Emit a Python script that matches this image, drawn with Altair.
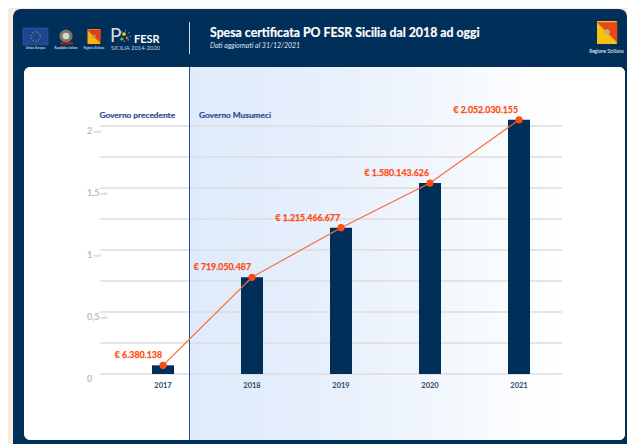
import altair as alt
import pandas as pd

years = [2017, 2018, 2019, 2020, 2021]
bar_values = [0.07, 0.78, 1.18, 1.54, 2.05]
euro_labels = ["€ 6.380.138", "€ 719.050.487", "€ 1.215.466.677", "€ 1.580.143.626", "€ 2.052.030.155"]
grid_values = [0, 0.25, 0.5, 0.75, 1, 1.25, 1.5, 1.75, 2]
tick_values = [0, 0.5, 1, 1.5, 2]
tick_labels = ["0", "0,5", "1", "1,5", "2"]
unit_short_ticks = [1, 2]
unit_long_ticks = [0.5, 1.5]

NAVY = "#002f5a"
ORANGE = "#ff4d12"
BLUE = "#2e4a94"
FONT = "Lato"
W, H = 619, 436

def px(v):  # page coordinate -> chart coordinate
    return alt.value(v - 8)

xs = alt.Scale(domain=[2017, 2021], range=[155, 511], padding=0, nice=False, zero=False)
ys = alt.Scale(domain=[0, 2], range=[366, 118], padding=0, nice=False)
X = alt.X("year:Q", scale=xs, axis=None)
Y = alt.Y("v:Q", scale=ys, axis=None)
Y0 = alt.Y(datum=0, scale=ys, axis=None)

one = pd.DataFrame({"a": [0]})

def box(x1, y1, x2, y2, **kw):
    return alt.Chart(one).mark_rect(**kw).encode(x=px(x1), x2=px(x2), y=px(y1), y2=px(y2))

def label(x, y, text, size, color="white", weight="normal", align="left", **kw):
    return alt.Chart(pd.DataFrame({"t": [text]})).mark_text(
        font=FONT, fontSize=size, color=color, fontWeight=weight, align=align, baseline="middle", **kw
    ).encode(x=px(x), y=px(y), text="t:N")

def symbol(x, y, shape, size, color):
    return alt.Chart(one).mark_point(shape=shape, size=size, filled=True, color=color, opacity=1).encode(x=px(x), y=px(y))

def ring(x, y, size, color, dash):
    return alt.Chart(one).mark_point(shape="circle", size=size, filled=False, color=color, opacity=1,
                                     strokeWidth=1, strokeDash=dash).encode(x=px(x), y=px(y))

bars_df = pd.DataFrame({"year": years, "v": bar_values, "label": euro_labels})
grid_df = pd.DataFrame({"v": grid_values})
ticks_df = pd.DataFrame({"v": tick_values, "t": tick_labels})

cream = box(0, 0, 640, 450, color="#f3ecdf")
navy = box(13, 9, 627, 470, color=NAVY, cornerRadiusTopLeft=8, cornerRadiusTopRight=8)
white = box(24, 67, 625, 440, color="white", cornerRadius=6)
grad = box(189, 67, 625, 440, cornerRadiusTopRight=6, cornerRadiusBottomRight=6,
           color=alt.Gradient(gradient="linear", x1=0, x2=1, y1=0, y2=0,
                              stops=[alt.GradientStop(color="#dfebfb", offset=0),
                                     alt.GradientStop(color="#e6effc", offset=0.3),
                                     alt.GradientStop(color="#ffffff", offset=0.85)]))
grid = alt.Chart(grid_df).mark_rule(color="#dcdcdc", strokeWidth=1.5).encode(y=Y, x=px(100), x2=px(562))
divider = alt.Chart(one).mark_rule(color=BLUE, strokeWidth=1).encode(x=px(189.5), y=px(67), y2=px(440))

bars = alt.Chart(bars_df).mark_bar(size=22, color=NAVY).encode(x=X, y=Y, y2=alt.Y2(datum=0))
line = alt.Chart(bars_df).mark_line(color="#ff6a3a", strokeWidth=1.2).encode(x=X, y=Y)
dots = alt.Chart(bars_df).mark_circle(size=52, color=ORANGE, opacity=1).encode(x=X, y=Y)
values = alt.Chart(bars_df).mark_text(font=FONT, fontSize=8.8, fontWeight="bold", color=ORANGE, align="right",
                                      baseline="middle", dx=-1, dy=-10, stroke=ORANGE, strokeWidth=0.25).encode(x=X, y=Y, text="label:N")
year_txt = alt.Chart(bars_df).mark_text(font=FONT, fontSize=7.5, fontWeight="bold", color="#2c4a6e", dy=12,
                                        baseline="middle").encode(x=X, y=Y0, text=alt.Text("year:Q", format="d"))
tick_big = alt.Chart(ticks_df).mark_text(font=FONT, fontSize=9, fontWeight="bold", color="#bdbdbd", align="left",
                                         baseline="middle", dy=5).encode(x=px(87), y=Y, text="t:N")
unit_a = alt.Chart(pd.DataFrame({"v": unit_short_ticks, "u": "mld"})).mark_text(
    font=FONT, fontSize=4.5, color="#bdbdbd", align="left", baseline="middle", dy=6).encode(x=px(93.5), y=Y, text="u:N")
unit_b = alt.Chart(pd.DataFrame({"v": unit_long_ticks, "u": "mld"})).mark_text(
    font=FONT, fontSize=4.5, color="#bdbdbd", align="left", baseline="middle", dy=6).encode(x=px(100), y=Y, text="u:N")

# header
header = [
    box(23, 28, 48, 45, color="#1f4690", stroke="#3f65b0", strokeWidth=0.5),
    ring(35.5, 36.5, 90, "#c9b63a", [1, 2]),
    label(35.5, 48, "Unione Europea", 2.8, align="center"),
    symbol(66, 36, "circle", 170, "#77776c"),
    symbol(66, 36, "circle", 45, "#d8d8d0"),
    box(60, 42, 73, 44.5, color="#8c2a22"),
    label(66, 48, "Repubblica Italiana", 2.8, align="center"),
    box(87.5, 29, 100, 44, color="#f7b512"),
    symbol(93.75, 36.5, "M -1 -1 L 1 -1 L 1 1 Z", 200, "#d8431c"),
    symbol(93.75, 36.5, "circle", 16, "#c0a030"),
    label(94, 48, "Regione Siciliana", 2.8, align="center"),
    label(110, 36, "P", 19, color="#d8dee6"),
    ring(125, 36, 110, "#e8edf2", [1, 3]),
    symbol(124, 34, "circle", 14, "#f3c42a"),
    symbol(122, 39, "circle", 10, "#5db85a"),
    symbol(127, 38, "circle", 8, "#e65a2a"),
    label(134, 39.5, "FESR", 11, weight="bold"),
    label(111, 47.5, "SICILIA 2014-2020", 5.8, color="#c8d2de"),
    box(189, 22, 190, 54, color="#cfd7e0"),
    label(210, 33, "Spesa certificata PO FESR Sicilia dal 2018 ad oggi", 12.3, weight="bold", stroke="white", strokeWidth=0.2),
    label(210, 45.7, "Dati aggiornati al 31/12/2021", 7, color="#dfe5ec", fontStyle="italic"),
    box(597, 21, 617, 44, color="#f7c312", cornerRadius=1),
    symbol(607, 32.5, "M -1 -1 L 1 -1 L 1 1 Z", 420, "#e8481c"),
    symbol(607, 32, "circle", 30, "#c8b070"),
    label(606.5, 52, "Regione Siciliana", 4.7, align="center"),
    label(99.5, 116, "Governo precedente", 8.3, color=BLUE, weight="bold", stroke=BLUE, strokeWidth=0.2),
    label(199, 116, "Governo Musumeci", 8.3, color=BLUE, weight="bold", stroke=BLUE, strokeWidth=0.2),
]

chart = alt.layer(cream, navy, white, grad, grid, divider, bars, line, dots, values, year_txt, tick_big, unit_a, unit_b, *header).properties(
    width=W, height=H, padding=0, autosize=alt.AutoSizeParams(type="none"), background="#f3ecdf"
).configure_view(stroke=None)

chart.save("out.html", embed_options={"renderer": "svg", "actions": False})
